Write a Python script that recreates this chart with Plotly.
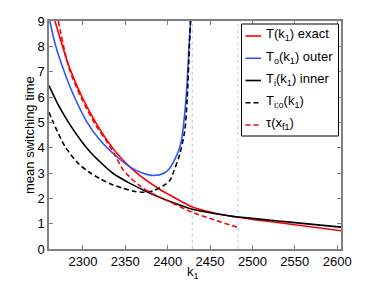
import plotly.graph_objects as go

# ---- data ----
k_exact = [2267, 2281, 2286, 2299, 2315, 2330, 2342, 2355, 2368, 2391, 2402, 2429, 2455, 2483, 2500, 2550, 2605]
T_exact = [9.0, 7.46, 7.0, 6.0, 5.0, 4.22, 3.7, 3.25, 2.88, 2.35, 2.14, 1.66, 1.42, 1.25, 1.17, 0.96, 0.72]

k_outer = [2261, 2268, 2278, 2290, 2305, 2320, 2338, 2355, 2370, 2384, 2396, 2402.5, 2407, 2412, 2416, 2420, 2423, 2425.5, 2427]
T_outer = [9.0, 8.0, 7.0, 6.0, 5.0, 4.3, 3.7, 3.25, 3.0, 2.9, 3.0, 3.19, 3.45, 3.8, 4.24, 5.3, 6.6, 8.2, 9.0]

k_inner = [2260, 2270, 2283, 2299, 2308, 2318, 2335, 2355, 2373, 2391, 2402, 2429, 2455, 2483, 2500, 2550, 2605]
T_inner = [6.45, 5.75, 5.0, 4.22, 3.85, 3.51, 3.0, 2.6, 2.3, 2.03, 1.88, 1.57, 1.4, 1.26, 1.21, 1.04, 0.86]

k_io = [2260, 2265, 2279, 2294.5, 2308, 2320, 2334, 2347, 2360, 2372, 2383, 2395, 2402.5, 2407, 2414, 2420, 2423, 2425.5, 2427]
T_io = [5.4, 5.0, 4.04, 3.38, 3.02, 2.78, 2.55, 2.4, 2.28, 2.24, 2.3, 2.5, 2.7, 3.05, 3.71, 4.63, 5.9, 7.9, 9.0]

k_tau = [2271, 2284, 2299, 2315, 2327, 2338, 2346, 2355, 2367, 2380, 2391, 2402, 2429, 2455, 2483]
T_tau = [9.0, 7.1, 5.9, 4.9, 4.3, 3.7, 3.2, 2.85, 2.5, 2.22, 2.04, 1.87, 1.45, 1.15, 0.85]

vlines_k = [2429, 2483]

x_ticks = [2300, 2350, 2400, 2450, 2500, 2550, 2600]
y_ticks = list(range(0, 10))

names = ["T(k<sub>1</sub>) exact", "T<sub>o</sub>(k<sub>1</sub>) outer", "T<sub>i</sub>(k<sub>1</sub>) inner",
         "T<sub>i;o</sub>(k<sub>1</sub>)", "τ(x<sub>f1</sub>)"]
colors = ["#ff0000", "#2a55ff", "#000000", "#000000", "#ff0000"]
dashes = ["solid", "solid", "solid", "5px,3px", "5px,3px"]

FONT = "Liberation Sans, Arial, sans-serif"

fig = go.Figure()
data = [(k_exact, T_exact), (k_outer, T_outer), (k_inner, T_inner), (k_io, T_io), (k_tau, T_tau)]
for (kx, ty), nm, col, dash in zip(data, names, colors, dashes):
    fig.add_trace(go.Scatter(x=kx, y=ty, mode="lines", name=nm, showlegend=False,
                             line=dict(color=col, width=1.6, dash=dash, shape="spline", smoothing=0.8)))

for kv in vlines_k:
    fig.add_shape(type="line", xref="x", yref="paper", x0=kv, x1=kv, y0=0, y1=1,
                  line=dict(color="#b8c0ff", width=1, dash="dot"), layer="below")

# ---- legend drawn manually (MATLAB style: short line samples) ----
L, R, T_, B = 49, 341, 21, 249
W, H = R - L, B - T_
px = lambda x: (x - L) / W
py = lambda y: 1 - (y - T_) / H
fig.add_shape(type="rect", xref="paper", yref="paper", x0=px(241.5), x1=px(338.5), y0=py(136), y1=py(24),
              line=dict(color="#000", width=1), fillcolor="white", layer="above")
for i, (nm, col, dash) in enumerate(zip(names, colors, dashes)):
    yy = 36 + 22.25 * i
    fig.add_shape(type="line", xref="paper", yref="paper", x0=px(245.5), x1=px(261), y0=py(yy), y1=py(yy),
                  line=dict(color=col, width=1.6, dash=dash), layer="above")
    fig.add_annotation(xref="paper", yref="paper", x=px(264), y=py(yy - 1), text=nm, showarrow=False,
                       xanchor="left", yanchor="middle", font=dict(family=FONT, size=13, color="#000"))

# axis titles
fig.add_annotation(xref="paper", yref="paper", x=px(29), y=py(135), text="mean switching time", textangle=-90,
                   showarrow=False, xanchor="center", yanchor="middle", font=dict(family=FONT, size=13, color="#000"))
fig.add_annotation(xref="paper", yref="paper", x=px(193), y=py(272), text="k<sub>1</sub>",
                   showarrow=False, xanchor="center", yanchor="middle", font=dict(family=FONT, size=13, color="#000"))

axis_common = dict(showline=True, linecolor="#808080", linewidth=1.5, mirror="ticks",
                   ticks="inside", tickcolor="#808080", ticklen=4, showgrid=False, zeroline=False,
                   tickfont=dict(family=FONT, size=13, color="#000"))

fig.update_layout(
    width=377, height=284,
    margin=dict(l=49, r=36, t=21, b=35),
    paper_bgcolor="white", plot_bgcolor="white",
    font=dict(family=FONT, size=13, color="#000"),
    xaxis=dict(range=[2260, 2604.5], tickvals=x_ticks, ticktext=[str(v) for v in x_ticks], **axis_common),
    yaxis=dict(range=[0, 9], tickvals=y_ticks, ticktext=[str(v) for v in y_ticks], **axis_common),
    showlegend=False,
)

fig.write_html("out.html", config={"displayModeBar": False},
               post_script="document.body.style.margin='0';document.body.style.padding='0';")
